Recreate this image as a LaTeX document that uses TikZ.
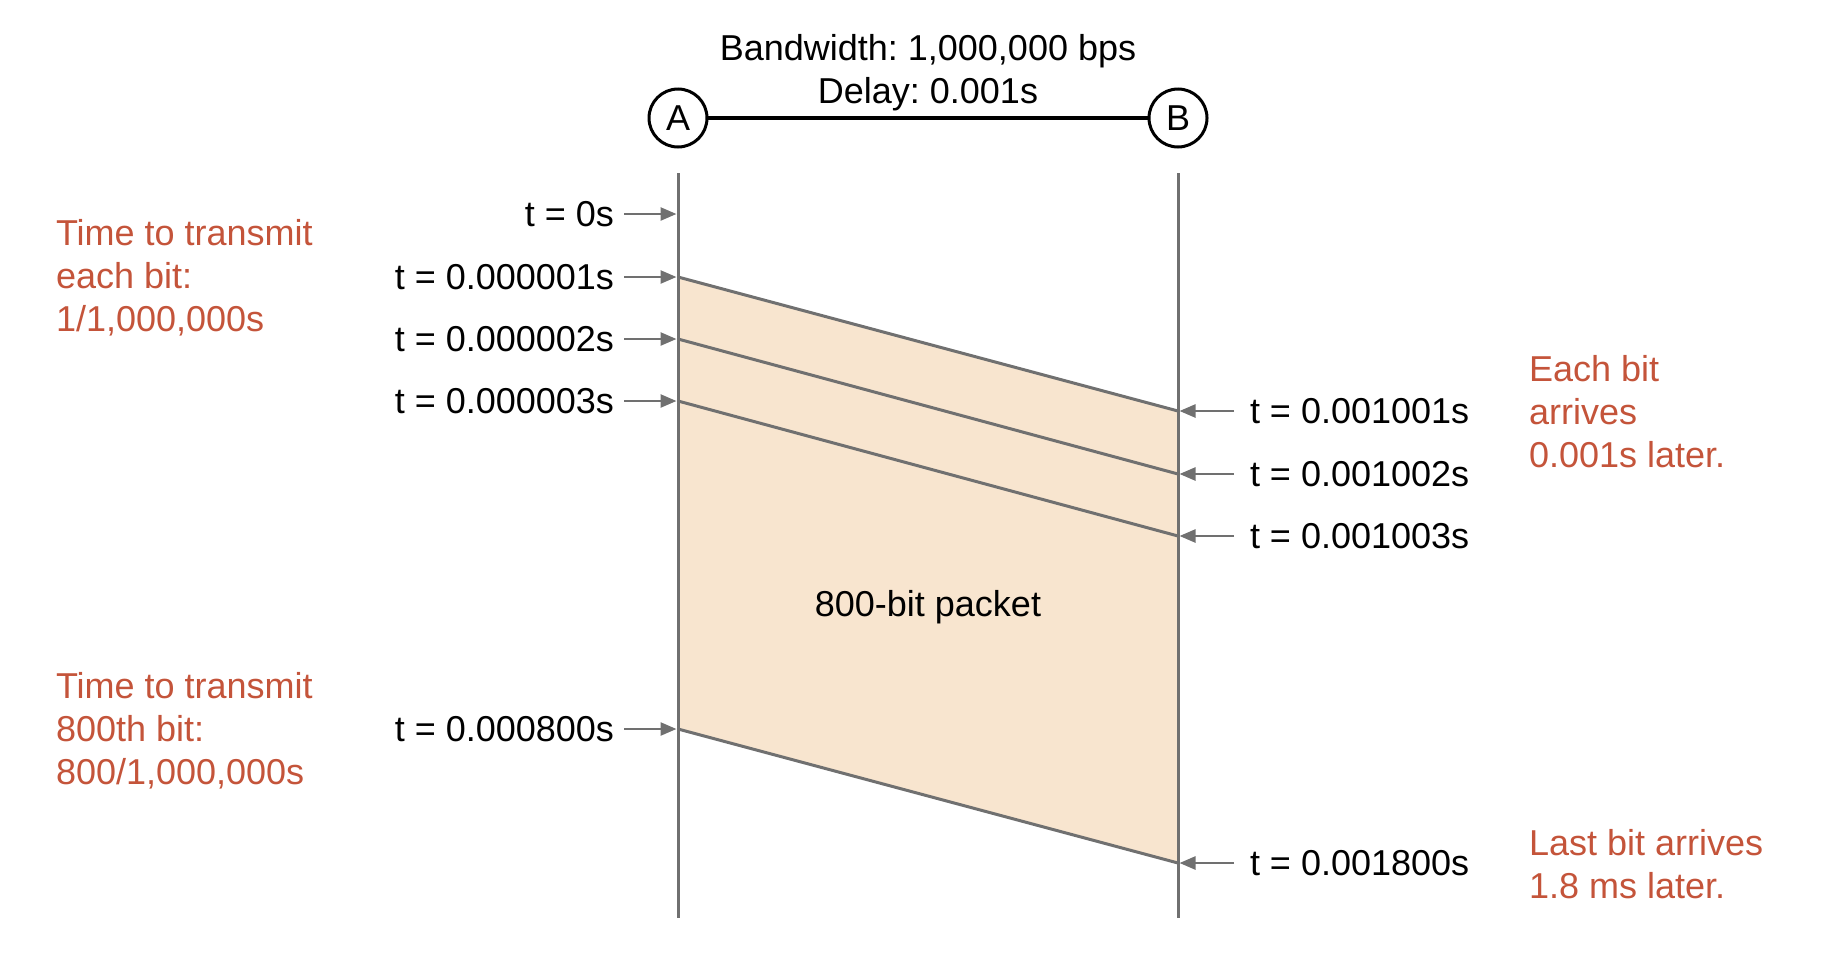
\documentclass[tikz,border=0pt]{standalone}
\usepackage{fontspec}
\setmainfont{Liberation Sans}
\usetikzlibrary{arrows.meta}
\frenchspacing
\definecolor{redtxt}{RGB}{196,84,58}
\definecolor{linegray}{RGB}{112,112,112}
\definecolor{pktfill}{RGB}{248,229,207}
\tikzset{
  base/.style={inner sep=0pt, outer sep=0pt, font=\fontsize{36bp}{43bp}\selectfont, text depth=0pt},
  circ/.style={base, draw=black, line width=3bp, circle, minimum size=58bp},
  link/.style={line width=4bp, black},
  tlabel/.style={base, text=black},
  note/.style={base, text=redtxt, align=left, anchor=west},
  axis/.style={line width=3bp, linegray},
  bitline/.style={line width=3bp, linegray},
  tarrow/.style={line width=2.5bp, linegray, shorten >=1.5bp, -{Triangle[length=16bp,width=13bp]}},
  pkt/.style={fill=pktfill}
}
\begin{document}
\begin{tikzpicture}[x=1bp,y=-1bp]
\useasboundingbox (0,0) rectangle (1834,978);
% endpoints
\node[circ] (A) at (678,118) {A};
\node[circ] (B) at (1178,118) {B};
\draw[link] (A) -- (B);
\node[base, align=center] (bw) at (928,69) {Bandwidth: 1,000,000 bps\\Delay: 0.001s};
% coordinates
\coordinate (Atop) at (678,173);
\coordinate (Abot) at (678,918);
\coordinate (Btop) at (1178,173);
\coordinate (Bbot) at (1178,918);
\coordinate (a0) at (678,214);
\coordinate (a1) at (678,277);
\coordinate (a2) at (678,339);
\coordinate (a3) at (678,401);
\coordinate (a800) at (678,729);
\coordinate (b1) at (1178,411);
\coordinate (b2) at (1178,474);
\coordinate (b3) at (1178,536);
\coordinate (b800) at (1178,863);
% packet
\fill[pkt] (a1) -- (b1) -- (b800) -- (a800) -- cycle;
\draw[axis] (Atop) -- (Abot);
\draw[axis] (Btop) -- (Bbot);
\draw[bitline] (a1) -- (b1);
\draw[bitline] (a2) -- (b2);
\draw[bitline] (a3) -- (b3);
\draw[bitline] (a800) -- (b800);
\node[base] (pl) at (928,603) {800-bit packet};
% left labels
\node[tlabel, anchor=east] (la0) at (614,214) {t = 0s};
\node[tlabel, anchor=east] (la1) at (614,277) {t = 0.000001s};
\node[tlabel, anchor=east] (la2) at (614,339) {t = 0.000002s};
\node[tlabel, anchor=east] (la3) at (614,401) {t = 0.000003s};
\node[tlabel, anchor=east] (la800) at (614,729) {t = 0.000800s};
\draw[tarrow] ([xshift=10bp]la0.east) -- (a0);
\draw[tarrow] ([xshift=10bp]la1.east) -- (a1);
\draw[tarrow] ([xshift=10bp]la2.east) -- (a2);
\draw[tarrow] ([xshift=10bp]la3.east) -- (a3);
\draw[tarrow] ([xshift=10bp]la800.east) -- (a800);
% right labels
\node[tlabel, anchor=west] (lb1) at (1250,411) {t = 0.001001s};
\node[tlabel, anchor=west] (lb2) at (1250,474) {t = 0.001002s};
\node[tlabel, anchor=west] (lb3) at (1250,536) {t = 0.001003s};
\node[tlabel, anchor=west] (lb800) at (1250,863) {t = 0.001800s};
\draw[tarrow] ([xshift=-16bp]lb1.west) -- (b1);
\draw[tarrow] ([xshift=-16bp]lb2.west) -- (b2);
\draw[tarrow] ([xshift=-16bp]lb3.west) -- (b3);
\draw[tarrow] ([xshift=-16bp]lb800.west) -- (b800);
% notes
\node[note] (n1) at (56,275) {Time to transmit\\each bit:\\1/1,000,000s};
\node[note] (n2) at (56,728) {Time to transmit\\800th bit:\\800/1,000,000s};
\node[note] (n3) at (1529,411) {Each bit\\arrives\\0.001s later.};
\node[note] (n4) at (1529,864) {Last bit arrives\\1.8 ms later.};
\end{tikzpicture}
\end{document}
